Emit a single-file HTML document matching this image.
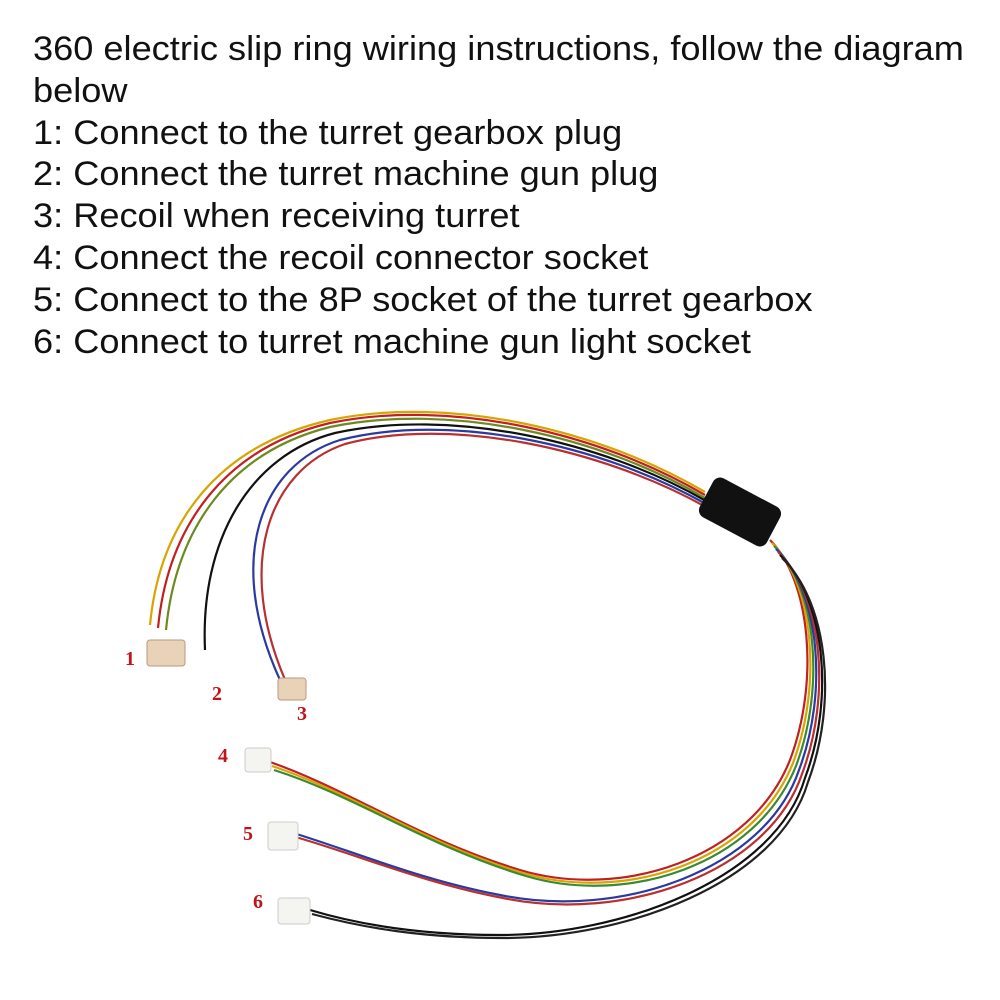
<!DOCTYPE html>
<html><head><meta charset="utf-8"><style>
body{margin:0;background:#fff;width:1000px;height:1000px;overflow:hidden;position:relative;font-family:"Liberation Sans",sans-serif}
.t{position:absolute;left:33px;top:29px;font-size:34px;line-height:41.8px;color:#111;white-space:nowrap;transform:scaleX(1.064);transform-origin:left top}
.n{position:absolute;color:#c0141a;font-family:"Liberation Serif",serif;font-weight:bold;font-size:20px}
</style></head><body>
<div class="t">360 electric slip ring wiring instructions, follow the diagram<br>below<br>1: Connect to the turret gearbox plug<br>2: Connect the turret machine gun plug<br>3: Recoil when receiving turret<br>4: Connect the recoil connector socket<br>5: Connect to the 8P socket of the turret gearbox<br>6: Connect to turret machine gun light socket</div>
<svg width="1000" height="1000" style="position:absolute;left:0;top:0" fill="none" stroke-width="2.2">
<path d="M705,492 C600,430 450,395 330,420 C220,445 160,520 150,625" stroke="#d9a400"/>
<path d="M705,495 C600,433 450,398 330,423 C225,448 168,525 158,628" stroke="#c02020"/>
<path d="M705,498 C600,436 450,402 330,427 C230,452 176,528 166,630" stroke="#6b8a20"/>
<path d="M706,501 C600,440 450,408 335,433 C250,455 200,540 205,650" stroke="#111"/>
<path d="M706,504 C600,444 450,412 340,440 C260,465 225,560 280,680" stroke="#2a3aa0"/>
<path d="M706,507 C600,448 450,416 345,444 C268,470 235,565 286,682" stroke="#b83030"/>
<path d="M770,540 C810,580 820,680 790,760 C750,860 620,900 520,870 C420,840 350,790 270,762" stroke="#c02020"/>
<path d="M772,543 C813,583 823,683 793,763 C753,863 623,903 523,873 C423,843 353,793 272,766" stroke="#d9a400"/>
<path d="M774,546 C816,586 826,686 796,766 C756,866 626,906 526,876 C426,846 356,796 274,770" stroke="#3a8a30"/>
<path d="M776,549 C819,590 829,690 799,770 C765,870 620,920 500,895 C420,880 350,850 290,832" stroke="#2a3aa0"/>
<path d="M778,552 C822,594 832,694 802,774 C768,874 623,923 503,898 C423,883 353,853 292,836" stroke="#b83030"/>
<path d="M780,555 C825,598 835,698 805,778 C775,880 620,935 500,935 C420,935 360,925 310,910" stroke="#111"/>
<path d="M782,558 C828,602 838,702 808,782 C778,884 624,938 504,938 C424,938 364,928 312,914" stroke="#222"/>
<g transform="rotate(28 740 512)"><rect x="702" y="490" width="76" height="44" rx="8" fill="#111" stroke="none"/></g>
<rect x="147" y="640" width="38" height="26" rx="3" fill="#e8d2b8" stroke="#b89a80" stroke-width="1"/>
<rect x="278" y="678" width="28" height="22" rx="3" fill="#e8d2b8" stroke="#b89a80" stroke-width="1"/>
<rect x="245" y="748" width="26" height="24" rx="3" fill="#f4f4f0" stroke="#ccc" stroke-width="1"/>
<rect x="268" y="822" width="30" height="28" rx="3" fill="#f4f4f0" stroke="#ccc" stroke-width="1"/>
<rect x="278" y="898" width="32" height="26" rx="3" fill="#f4f4f0" stroke="#ccc" stroke-width="1"/>
</svg>
<div class="n" style="left:125px;top:648px">1</div>
<div class="n" style="left:212px;top:683px">2</div>
<div class="n" style="left:297px;top:703px">3</div>
<div class="n" style="left:218px;top:745px">4</div>
<div class="n" style="left:243px;top:823px">5</div>
<div class="n" style="left:253px;top:891px">6</div>
</body></html>
